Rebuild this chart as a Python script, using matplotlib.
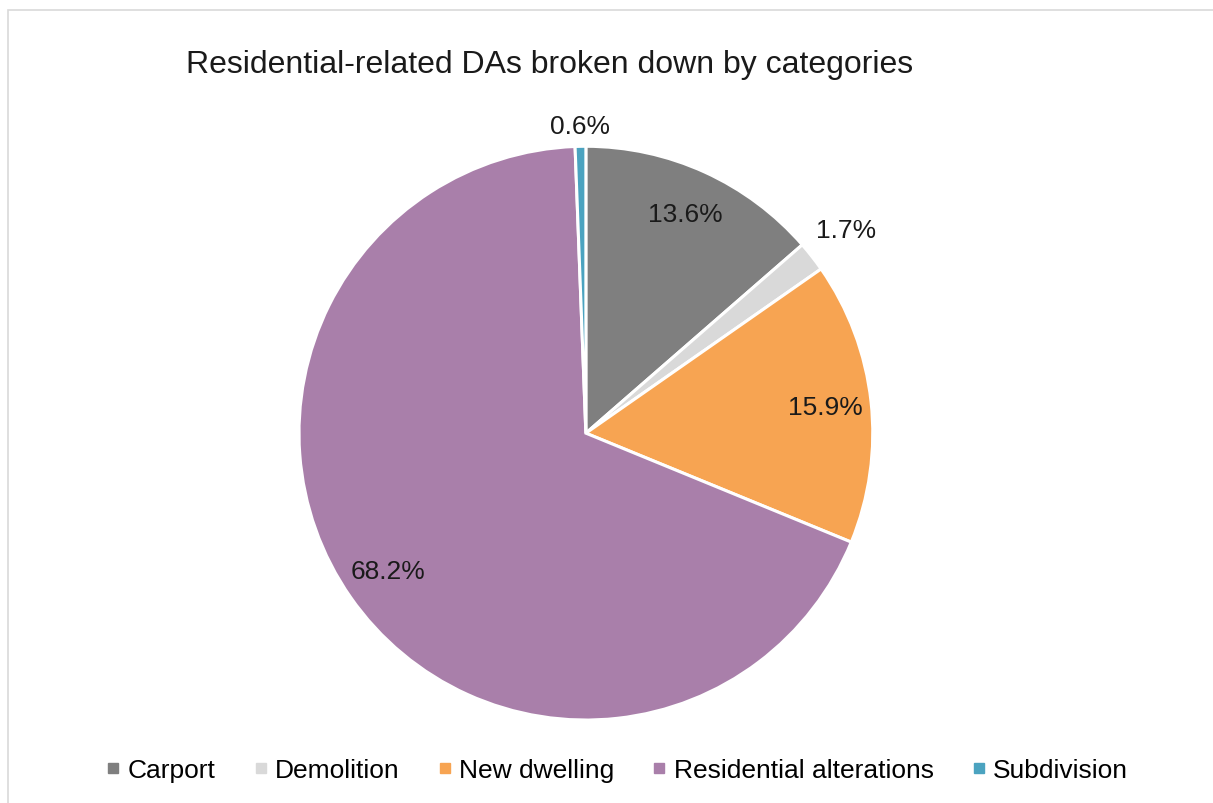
import matplotlib.pyplot as plt
from matplotlib.lines import Line2D
from matplotlib.patches import Rectangle

categories = ["Carport", "Demolition", "New dwelling", "Residential alterations", "Subdivision"]
shares = [13.6, 1.7, 15.9, 68.2, 0.6]
colors = ["#7f7f7f", "#d9d9d9", "#f7a452", "#a97faa", "#4ba3c0"]

plt.rcParams["font.family"] = ["Liberation Sans", "DejaVu Sans"]

fig = plt.figure(figsize=(12.13, 8.04), dpi=100)

# thin grey frame around the chart area
fig.patches.append(Rectangle((0.007, -0.05), 1.05, 1.036, transform=fig.transFigure,
                             fill=False, edgecolor="#d9d9d9", linewidth=1.2))

ax = fig.add_axes([0.2465, 0.103, 0.473, 0.714])
wedges, texts, autotexts = ax.pie(
    shares, colors=colors, startangle=90, counterclock=False,
    autopct="%.1f%%", pctdistance=0.84,
    wedgeprops=dict(edgecolor="white", linewidth=2.2),
    textprops=dict(fontsize=19, color="#1a1a1a"),
)
ax.set_xlim(-1, 1)
ax.set_ylim(-1, 1)
ax.set_aspect("equal")

# push the two thin slices' labels outside the pie
for i, dist in [(1, 1.15), (4, 1.07)]:
    x, y = autotexts[i].get_position()
    r = (x ** 2 + y ** 2) ** 0.5
    autotexts[i].set_position((x / r * dist, y / r * dist))

fig.text(0.453, 0.919, "Residential-related DAs broken down by categories",
         ha="center", va="center", fontsize=23, color="#1a1a1a")

handles = [Line2D([], [], linestyle="none", marker="s", markersize=7,
                  markerfacecolor=c, markeredgecolor=c) for c in colors]
fig.legend(handles, categories, loc="center", bbox_to_anchor=(0.508, 0.041), ncol=5,
           frameon=False, fontsize=19, handletextpad=0.2, columnspacing=1.35,
           handlelength=0.7)

fig.savefig("out.png", dpi=100, facecolor="white")
